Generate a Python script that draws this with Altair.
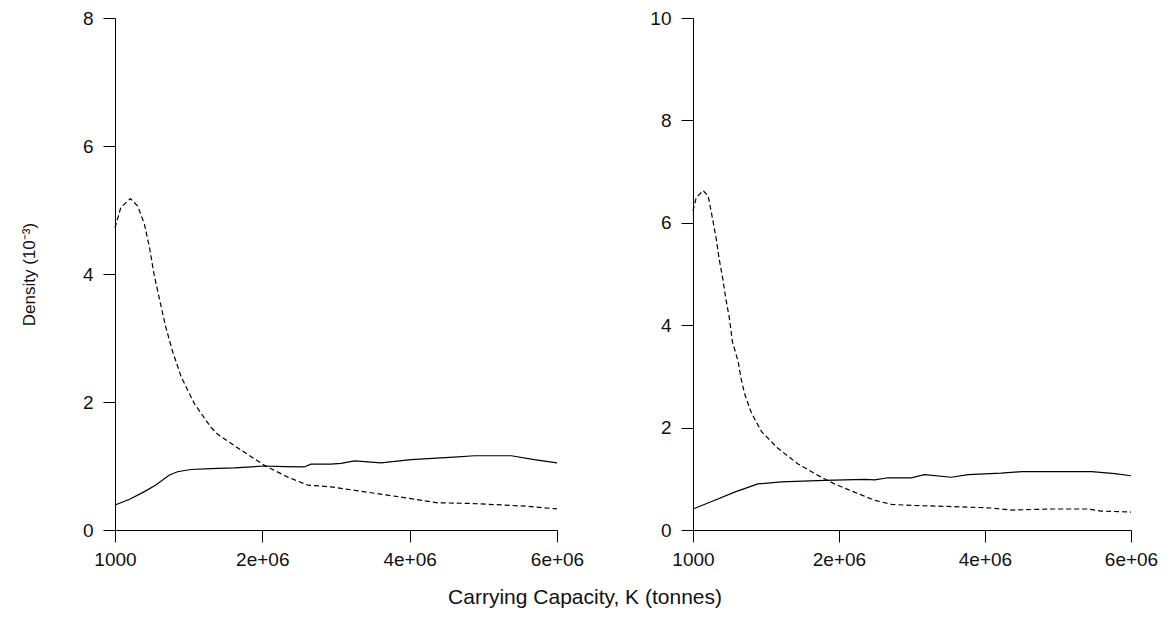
import altair as alt
import pandas as pd

# Left panel
left_solid_k = [1000, 200000, 400000, 550000, 740000, 850000, 1030000, 1300000, 1620000,
                2030000, 2300000, 2570000, 2660000, 2930000, 3070000, 3250000, 3610000,
                4020000, 4600000, 4880000, 5380000, 5690000, 6000000]
left_solid_d = [0.39, 0.48, 0.60, 0.70, 0.86, 0.91, 0.945, 0.96, 0.97,
                1.00, 0.99, 0.985, 1.03, 1.03, 1.04, 1.08, 1.05,
                1.10, 1.14, 1.16, 1.16, 1.10, 1.05]
left_dash_k = [1000, 80000, 210000, 310000, 400000, 470000, 530000, 600000, 690000,
               780000, 900000, 1080000, 1300000, 1390000, 1620000, 1710000, 2030000,
               2340000, 2620000, 2930000, 3250000, 3700000, 4020000, 4380000, 4830000,
               5280000, 5600000, 6000000]
left_dash_d = [4.72, 5.04, 5.18, 5.06, 4.78, 4.41, 4.00, 3.63, 3.17,
               2.80, 2.39, 1.97, 1.61, 1.50, 1.32, 1.25, 1.01,
               0.83, 0.70, 0.675, 0.62, 0.545, 0.49, 0.425, 0.415,
               0.39, 0.37, 0.33]

# Right panel
right_solid_k = [1000, 300000, 570000, 890000, 1210000, 1800000, 2350000, 2490000, 2670000,
                 2990000, 3170000, 3540000, 3770000, 4220000, 4500000, 4820000, 5460000,
                 5780000, 6000000]
right_solid_d = [0.41, 0.58, 0.74, 0.90, 0.94, 0.97, 0.99, 0.98, 1.02,
                 1.02, 1.08, 1.03, 1.08, 1.11, 1.14, 1.14, 1.14,
                 1.10, 1.06]
right_dash_k = [1000, 45000, 140000, 210000, 270000, 320000, 360000, 410000, 450000,
                500000, 540000, 620000, 660000, 710000, 800000, 940000, 1160000,
                1440000, 1760000, 1940000, 2210000, 2490000, 2720000, 2990000, 3500000,
                4090000, 4360000, 4910000, 5410000, 5590000, 6000000]
right_dash_d = [6.23, 6.49, 6.63, 6.52, 6.07, 5.68, 5.29, 4.90, 4.52,
                4.13, 3.68, 3.29, 2.95, 2.65, 2.29, 1.92, 1.60,
                1.29, 1.03, 0.90, 0.74, 0.58, 0.50, 0.48, 0.46,
                0.43, 0.39, 0.41, 0.41, 0.37, 0.35]

x_ticks = [1000, 2000000, 4000000, 6000000]
left_y_ticks = [0, 2, 4, 6, 8]
right_y_ticks = [0, 2, 4, 6, 8, 10]

FONT = "Liberation Sans"


def panel(sk, sd, dk, dd, ymax, yticks, ytitle, width):
    df_s = pd.DataFrame({"K": sk, "D": sd})
    df_d = pd.DataFrame({"K": dk, "D": dd})
    x = alt.X(
        "K:Q",
        title=None,
        scale=alt.Scale(domain=[1000, 6000000], nice=False, zero=False),
        axis=alt.Axis(
            values=x_ticks,
            labelExpr="datum.value == 1000 ? '1000' : format(datum.value / 1000000, 'd') + 'e+06'",
            grid=False, tickSize=12, labelPadding=8, labelFontSize=19,
            labelFont=FONT, labelColor="#111", domainColor="black", tickColor="black",
            labelFlush=False, labelOverlap=False,
        ),
    )
    yaxis_kwargs = dict(
        values=yticks, grid=False, tickSize=12, labelPadding=10, labelFontSize=19,
        labelFont=FONT, labelColor="#111", domainColor="black", tickColor="black",
        labelFlush=False, labelOverlap=False,
    )
    if ytitle:
        yaxis_kwargs.update(title=ytitle, titleFontSize=17, titleFont=FONT,
                            titleFontWeight="normal", titleColor="#111", titlePadding=44)
        y = alt.Y("D:Q", scale=alt.Scale(domain=[0, ymax], nice=False),
                  axis=alt.Axis(**yaxis_kwargs))
    else:
        y = alt.Y("D:Q", title=None, scale=alt.Scale(domain=[0, ymax], nice=False),
                  axis=alt.Axis(**yaxis_kwargs))
    solid = alt.Chart(df_s).mark_line(color="black", strokeWidth=1.2).encode(x=x, y=y)
    dashed = alt.Chart(df_d).mark_line(color="black", strokeWidth=1.2,
                                       strokeDash=[5, 3]).encode(x=x, y=y)
    return alt.layer(solid, dashed).properties(width=width, height=512)


left = panel(left_solid_k, left_solid_d, left_dash_k, left_dash_d, 8, left_y_ticks,
             "Density (10⁻³)", 442)
right = panel(right_solid_k, right_solid_d, right_dash_k, right_dash_d, 10, right_y_ticks,
              None, 438)

chart = alt.hconcat(left, right, spacing=65).properties(
    title=alt.TitleParams(
        "Carrying Capacity, K (tonnes)", orient="bottom", anchor="middle",
        fontSize=21, font=FONT, fontWeight="normal", color="#111", offset=18, dx=-4,
    ),
    padding={"left": 12, "top": 1, "right": 0, "bottom": 0},
    background="white",
).configure_view(strokeWidth=0, stroke="transparent")

chart.save("out.html", embed_options={"renderer": "svg", "actions": False})
